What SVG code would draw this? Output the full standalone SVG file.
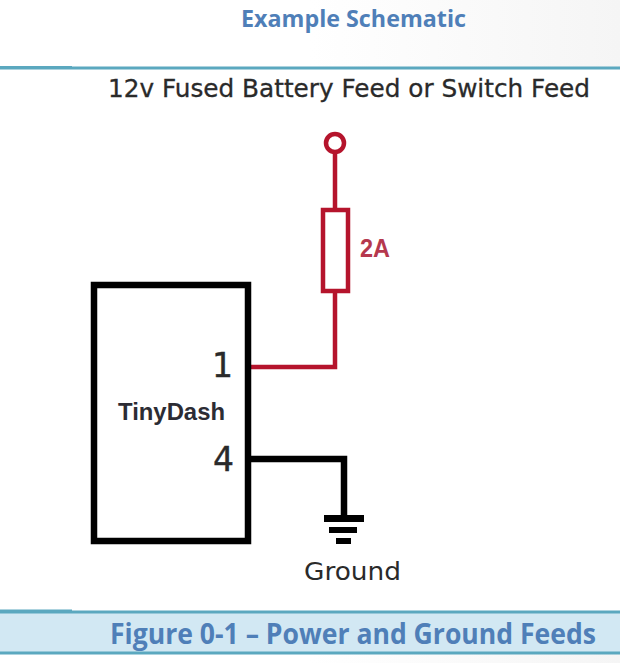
<svg xmlns="http://www.w3.org/2000/svg" width="620" height="663" viewBox="0 0 620 663">
<style>
.h{font-family:"Open Sans","Liberation Sans",sans-serif;font-weight:700;fill:#4F7FB8}
.d{font-family:"DejaVu Sans",sans-serif;fill:#2a2a2a}
.rule{stroke:#5BA8BF;stroke-width:3;fill:none}
.r{stroke:#B5142C;fill:none;stroke-width:4.5}
.k{stroke:#000;fill:none;stroke-width:6.5}
</style>
<defs>
<linearGradient id="g" x1="0" x2="1" y1="0" y2="0"><stop offset="0.5" stop-color="#fff"/><stop offset="1" stop-color="#f5f5f5"/></linearGradient>
</defs>
<rect width="620" height="663" fill="#fff"/>
<rect width="620" height="67" fill="url(#g)"/>
<rect y="654" width="620" height="9" fill="url(#g)"/>
<rect y="612" width="620" height="41" fill="#D2E8F3"/>
<g id="page-rules">
<path class="rule" d="M0 68H620"/>
<path class="rule" d="M0 612H620"/>
<path class="rule" d="M0 653H620"/>
<path class="rule" d="M0 67.500H72M0 611H72"/>
</g>
<text class="h" transform="translate(241 27) scale(.9 1)" font-size="24" textLength="250" lengthAdjust="spacingAndGlyphs">Example Schematic</text>
<text class="d" x="108" y="97" font-size="24" stroke="#2a2a2a" stroke-width="0.3" textLength="482" lengthAdjust="spacingAndGlyphs">12v Fused Battery Feed or Switch Feed</text>
<g id="connectors">
<path class="r" d="M335 153V209M335 291V367H250"/>
<path class="k" d="M250 459H344V515"/>
</g>
<g id="tinydash">
<rect class="k" x="94" y="285" width="154" height="256" fill="none"/>
<text x="118" y="420" font-family="'Liberation Sans',sans-serif" font-weight="700" font-size="24" fill="#2c2c34" textLength="107" lengthAdjust="spacingAndGlyphs">TinyDash</text>
<text class="d" x="212" y="377" font-size="33" stroke="#2a2a2a" stroke-width="0.4">1</text>
<text class="d" x="213" y="471" font-size="33" stroke="#2a2a2a" stroke-width="0.4">4</text>
</g>
<g id="feed">
<circle class="r" cx="335" cy="143" r="9"/>
</g>
<g id="fuse">
<rect class="r" x="323" y="210" width="25" height="81"/>
<text x="360" y="257" font-family="'Liberation Sans',sans-serif" font-weight="700" font-size="25" fill="#B5384E" textLength="30" lengthAdjust="spacingAndGlyphs">2A</text>
</g>
<g id="ground">
<path fill="#000" d="M324 515H364V522H324ZM329 527H357V533H329ZM336 538H351V544H336Z"/>
<text class="d" x="304" y="580" font-size="24" textLength="97" lengthAdjust="spacingAndGlyphs">Ground</text>
</g>
<text class="h" transform="translate(110 644) scale(.9 1)" font-size="28" textLength="540" lengthAdjust="spacingAndGlyphs">Figure 0-1 – Power and Ground Feeds</text>
</svg>
